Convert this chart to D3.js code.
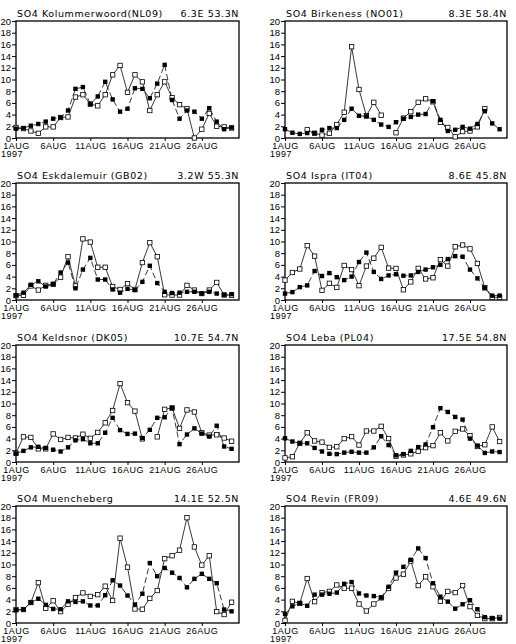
<!DOCTYPE html>
<html><head><meta charset="utf-8">
<script src="https://cdn.jsdelivr.net/npm/d3@7"></script>
<style>
html,body{margin:0;padding:0;background:#fff;}
svg{display:block;}
.t{font-family:"DejaVu Sans",sans-serif;font-size:9.5px;fill:#000;}
.tk{font-family:"Liberation Sans",Arial,sans-serif;font-size:9.5px;fill:#000;}
.tx{font-family:"Liberation Sans",Arial,sans-serif;font-size:9px;fill:#000;}
</style></head>
<body>
<script>
// ---- data ----
const days = [1,2,3,4,5,6,7,8,9,10,11,12,13,14,15,16,17,18,19,20,21,22,23,24,25,26,27,28,29,30];
const xTickDays = [1,6,11,16,21,26];
const xTickLabels = ["1AUG","6AUG","11AUG","16AUG","21AUG","26AUG"];
const yTicks = [0,2,4,6,8,10,12,14,16,18,20];
const yearLabel = "1997";
const stationNames = ["SO4 Kolummerwoord(NL09)","SO4 Birkeness (NO01)","SO4 Eskdalemuir (GB02)","SO4 Ispra (IT04)",
                      "SO4 Keldsnor (DK05)","SO4 Leba (PL04)","SO4 Muencheberg","SO4 Revin (FR09)"];
const stationCoords = ["6.3E  53.3N","8.3E  58.4N","3.2W  55.3N","8.6E  45.8N",
                       "10.7E  54.7N","17.5E  54.8N","14.1E  52.5N","4.6E  49.6N"];
// filled squares, dashed line
const filledNL09 = [1.6,1.7,2.1,2.4,2.8,3.3,3.5,4.7,8.4,8.7,5.8,7.1,9.6,6.6,4.5,5.0,8.5,8.4,6.8,9.3,12.5,6.5,3.3,4.7,4.5,3.3,5.1,2.8,1.5,1.8];
const filledNO01 = [1.5,0.9,0.7,0.85,0.85,1.4,1.7,1.7,3.1,5.0,3.8,3.7,3.1,2.3,1.9,2.7,3.3,3.6,4.0,4.1,6.3,3.1,1.2,1.4,1.9,1.6,2.4,4.6,2.5,1.5];
const filledGB02 = [0.8,1.25,2.6,3.2,2.3,2.7,4.7,6.4,2.0,5.2,7.2,3.5,3.5,1.8,1.25,1.9,1.7,3.1,5.85,2.9,1.4,1.2,1.25,1.4,1.4,1.1,1.4,1.1,0.9,1.0];
const filledIT04 = [1.1,1.35,2.2,2.5,4.95,4.1,4.6,3.9,3.4,4.0,6.5,8.1,4.8,3.6,4.2,4.4,4.15,4.2,4.8,5.2,5.6,6.0,7.0,7.5,7.4,5.2,3.7,2.05,0.75,0.75];
const filledDK05 = [1.45,1.9,2.5,2.6,2.4,2.1,1.8,2.5,3.7,3.9,3.2,3.2,5.0,7.55,5.45,4.8,4.85,4.1,5.5,7.55,7.65,9.2,3.05,4.7,5.75,4.85,4.35,6.2,2.65,2.25];
const filledPL04 = [4.05,3.5,3.2,3.2,2.4,1.8,1.4,1.35,1.6,1.75,1.6,1.6,2.5,4.4,2.9,1.15,1.35,1.9,2.55,3.0,5.95,9.2,8.55,7.7,7.25,4.0,2.8,1.55,1.8,1.7];
const filledMUEN = [2.2,2.3,3.5,4.15,3.1,2.4,2.35,3.7,3.6,3.7,3.0,3.0,4.75,7.3,6.4,4.7,3.15,5.0,10.25,8.0,9.4,8.6,7.7,6.1,7.55,8.4,7.55,6.8,2.3,2.0];
const filledFR09 = [1.55,2.85,3.4,2.95,4.85,4.85,5.0,5.2,6.7,7.0,5.05,4.7,4.6,4.35,6.2,8.6,9.6,10.8,12.75,11.1,6.8,4.5,3.65,2.45,3.2,3.9,2.35,1.0,0.85,0.75];
// open squares, solid line (null = missing)
const openNL09 = [1.8,1.6,1.2,0.8,1.9,1.9,3.5,3.6,7.0,7.4,5.8,5.5,7.4,10.8,12.4,7.8,10.8,9.6,4.7,7.4,9.6,6.9,5.7,5.0,0.0,1.5,4.2,2.0,1.9,1.7];
const openNO01 = [null,null,null,1.4,0.8,0.5,0.8,2.3,4.4,15.6,8.3,3.8,6.1,3.9,null,0.9,3.4,4.5,6.1,6.7,6.2,2.7,1.8,0.2,1.1,1.2,1.9,5.0,null,null];
const openGB02 = [0.75,0.8,2.4,1.7,2.5,2.7,3.9,7.4,2.4,10.45,9.9,5.6,5.6,2.3,1.8,2.8,1.8,6.4,9.8,7.4,0.9,0.85,0.85,2.5,1.7,1.1,1.7,3.0,0.85,0.8];
const openIT04 = [3.4,4.7,5.3,9.3,7.5,1.65,2.85,2.15,5.9,5.2,2.45,5.8,7.15,9.0,5.45,5.4,1.75,3.1,5.4,3.6,3.8,6.9,5.8,9.1,9.4,8.75,6.25,2.1,0.45,0.45];
const openDK05 = [1.5,4.3,4.2,2.25,2.25,4.8,3.85,4.2,4.1,4.75,4.05,5.05,6.7,8.8,13.4,10.15,8.7,3.95,null,4.3,9.0,9.25,5.75,8.9,8.55,5.0,4.6,4.65,4.1,3.55];
const openPL04 = [0.7,0.9,3.2,5.0,3.6,3.4,2.5,2.6,4.0,4.35,2.9,5.3,5.3,6.1,4.0,1.0,1.2,1.4,1.85,2.45,2.8,5.0,3.6,5.25,5.65,4.5,2.65,2.95,6.0,3.5];
const openMUEN = [2.3,2.3,3.5,6.9,2.5,3.8,1.95,3.2,4.35,5.15,4.55,4.85,6.3,3.85,14.5,9.55,2.4,2.35,4.2,5.55,11.0,11.5,12.45,18.0,13.0,9.9,11.5,1.95,1.45,3.55];
const openFR09 = [0.45,3.7,3.35,7.6,3.65,5.2,5.4,6.5,5.95,5.95,3.25,2.05,3.25,4.3,5.9,7.7,8.35,10.6,6.4,7.9,6.2,3.7,5.4,5.2,6.4,2.8,1.3,0.75,0.75,0.95];

const filledSeries = [filledNL09,filledNO01,filledGB02,filledIT04,filledDK05,filledPL04,filledMUEN,filledFR09];
const openSeries = [openNL09,openNO01,openGB02,openIT04,openDK05,openPL04,openMUEN,openFR09];

// ---- layout ----
const W = 516, H = 644;
const colX = [[16,239],[285,507]];
const rowTop = [21,183,345,506];
const plotH = 117;

const svg = d3.select("body").append("svg").attr("width",W).attr("height",H);

stationNames.forEach((name,i)=>{
  const col = i%2, row = Math.floor(i/2);
  const [x0,x1] = colX[col];
  const y0 = rowTop[row], y1 = y0+plotH;
  const x = d3.scaleLinear().domain([1,31]).range([x0,x1]);
  const y = d3.scaleLinear().domain([0,20]).range([y1,y0]);
  const g = svg.append("g");

  // y axis
  const ya = g.append("g").attr("transform",`translate(${x0},0)`)
    .call(d3.axisLeft(y).tickValues(yTicks).tickSize(4).tickPadding(1).tickFormat(d3.format("d")));
  ya.select(".domain").remove();
  ya.selectAll("text").attr("class","tk").attr("font-family",null).attr("font-size",null);
  ya.selectAll("line").attr("stroke","#000");
  // x axis
  const xa = g.append("g").attr("transform",`translate(0,${y1})`)
    .call(d3.axisBottom(x).tickValues(xTickDays).tickSize(3).tickPadding(1.2).tickFormat((d,k)=>xTickLabels[k]));
  xa.select(".domain").remove();
  xa.selectAll("text").attr("class","tx").attr("font-family",null).attr("font-size",null).attr("letter-spacing","0.5px");
  xa.selectAll("line").attr("stroke","#000");
  g.append("text").attr("class","tx").attr("x",x(1)-15).attr("y",y1+19.2).attr("letter-spacing","0.5px").text(yearLabel);

  // frame
  g.append("rect").attr("x",x0).attr("y",y0).attr("width",x1-x0).attr("height",plotH)
    .attr("fill","none").attr("stroke","#000").attr("stroke-width",1.3);

  // title
  g.append("text").attr("class","t").attr("x",x0+1).attr("y",y0-4).attr("letter-spacing","0.6px").text(name);
  g.append("text").attr("class","t").attr("x",x1).attr("y",y0-4).attr("text-anchor","end").attr("letter-spacing","0.6px").text(stationCoords[i]);

  const line = d3.line().defined(d=>d[1]!==null).x(d=>x(d[0])).y(d=>y(d[1]));
  const fd = days.map((d,k)=>[d,filledSeries[i][k]]);
  const od = days.map((d,k)=>[d,openSeries[i][k]]);

  g.append("path").attr("d",line(od)).attr("fill","none").attr("stroke","#222").attr("stroke-width",0.9);
  g.append("path").attr("d",line(fd)).attr("fill","none").attr("stroke","#222").attr("stroke-width",0.9).attr("stroke-dasharray","6,3");

  g.selectAll(".of").data(od.filter(d=>d[1]!==null)).enter().append("rect")
    .attr("x",d=>x(d[0])-2.2).attr("y",d=>y(d[1])-2.2).attr("width",4.4).attr("height",4.4)
    .attr("fill","#fff").attr("stroke","#000").attr("stroke-width",0.8);
  g.selectAll(".ff").data(fd).enter().append("rect")
    .attr("x",d=>x(d[0])-2.2).attr("y",d=>y(d[1])-2.2).attr("width",4.4).attr("height",4.4)
    .attr("fill","#000");
});
</script>
</body></html>
